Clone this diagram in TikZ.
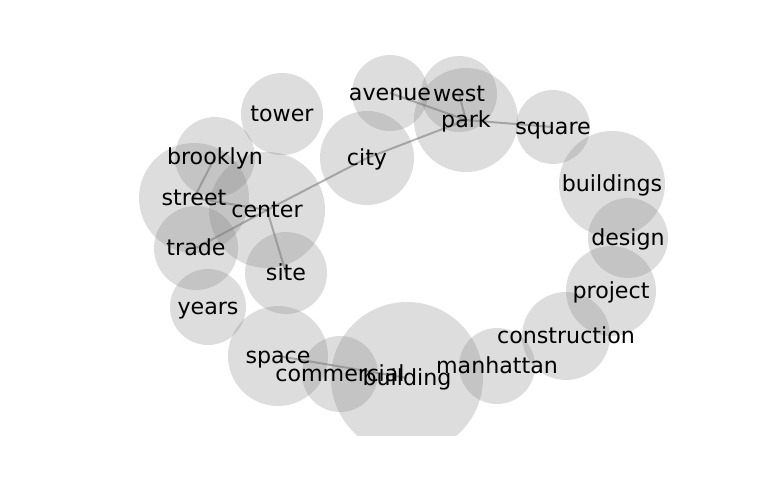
\documentclass[tikz,border=0pt]{standalone}
\usepackage{fontspec}
\setmainfont{DejaVu Sans}
\tikzset{
    bubble/.style = {fill=gray, fill opacity=0.27},
    link/.style = {draw=black, draw opacity=0.3, line width=1.44pt},
    word/.style = {font=\fontsize{16}{19}\selectfont, inner sep=0pt, text height=0.76em, text depth=0.21em, yshift=-2.9pt}
}
\begin{document}
\begin{tikzpicture}[x=0.01in, y=-0.01in]
        \useasboundingbox (0,0) rectangle (768,500);
        \foreach \w/\x/\y in {tower/282/114, brooklyn/215/157, street/194/198, center/267/210,
                trade/196/248, site/286/273, years/208/307, city/367/158, avenue/390/93,
                west/459/94, park/466/120, square/553/127, buildings/612/184, design/628/238,
                project/611/291, construction/566/336, manhattan/497/366, building/407/378,
                commercial/340/374, space/278/356}
            \coordinate (\w) at (\x,\y);
        \draw [link] (brooklyn) -- (street);
        \draw [link] (street) -- (center);
        \draw [link] (trade) -- (center);
        \draw [link] (center) -- (city);
        \draw [link] (center) -- (site);
        \draw [link] (city) -- (park);
        \draw [link] (avenue) -- (park);
        \draw [link] (west) -- (park);
        \draw [link] (park) -- (square);
        \draw [link] (space) -- (building);
        \begin{scope}
            \clip (0,0) rectangle (768,435);
            \foreach \w/\r in {tower/41, brooklyn/40, street/55, center/58, trade/42, site/41,
                    years/38, city/47, avenue/38, west/38, park/52, square/37, buildings/53,
                    design/40, project/45, construction/44, manhattan/38, building/76,
                    commercial/38, space/50}
                \fill [bubble] (\w) circle [radius=\r];
        \end{scope}
        \foreach \w in {tower, brooklyn, street, center, trade, site, years, city, avenue,
                west, park, square, buildings, design, project, construction, manhattan,
                building, commercial, space}
            \node [word] (\w-label) at (\w) {\w};
\end{tikzpicture}
\end{document}
